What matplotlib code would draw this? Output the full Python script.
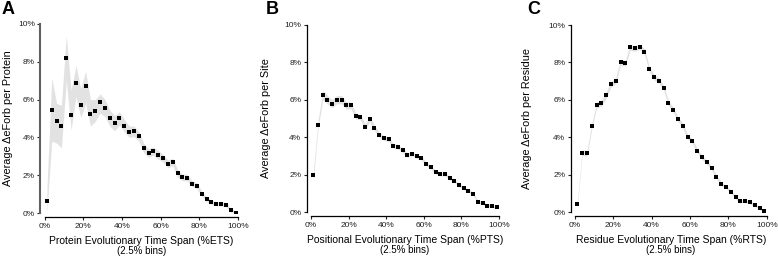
import numpy as np
import matplotlib
matplotlib.use("Agg")
import matplotlib.pyplot as plt
from matplotlib.ticker import FuncFormatter

plt.rcParams['font.family'] = ['Liberation Sans', 'DejaVu Sans']

# bin centres (2.5% bins)
bins = np.arange(1.25, 100, 2.5)

# Panel A - per protein
a_mean = [0.63, 5.44, 4.86, 4.60, 8.22, 5.19, 6.90, 5.70, 6.74, 5.25,
          5.42, 5.86, 5.58, 5.05, 4.75, 5.00, 4.61, 4.30, 4.33, 4.05,
          3.45, 3.17, 3.27, 3.08, 2.90, 2.60, 2.69, 2.10, 1.88, 1.87,
          1.55, 1.43, 1.02, 0.72, 0.56, 0.49, 0.48, 0.44, 0.14, 0.02]
a_hi = [1.30, 7.15, 5.80, 5.70, 9.40, 6.50, 7.80, 6.60, 7.50, 6.00,
        6.00, 6.30, 6.00, 5.45, 5.15, 5.35, 4.95, 4.60, 4.60, 4.30,
        3.70, 3.40, 3.50, 3.30, 3.10, 2.80, 2.90, 2.30, 2.05, 2.05,
        1.70, 1.60, 1.15, 0.85, 0.68, 0.60, 0.60, 0.55, 0.25, 0.10]
a_lo = [0.00, 3.80, 3.70, 3.45, 7.00, 4.40, 6.15, 5.05, 5.80, 4.60,
        4.85, 5.30, 5.10, 4.60, 4.35, 4.65, 4.30, 4.00, 4.05, 3.80,
        3.20, 2.95, 3.05, 2.85, 2.70, 2.40, 2.50, 1.90, 1.70, 1.70,
        1.40, 1.28, 0.90, 0.60, 0.45, 0.38, 0.37, 0.33, 0.04, 0.00]

# Panel B - per site
b_mean = [1.98, 4.68, 6.25, 6.00, 5.79, 6.00, 6.00, 5.70, 5.70, 5.14,
          5.07, 4.57, 4.96, 4.50, 4.14, 3.96, 3.90, 3.54, 3.50, 3.30,
          3.05, 3.13, 2.98, 2.89, 2.59, 2.39, 2.14, 2.04, 2.04, 1.82,
          1.68, 1.45, 1.29, 1.14, 0.98, 0.57, 0.50, 0.36, 0.34, 0.27]
b_err = [0.25, 0.20, 0.25, 0.22, 0.22, 0.22, 0.22, 0.20, 0.18, 0.16,
         0.15, 0.15, 0.15, 0.14, 0.13, 0.13, 0.12, 0.12, 0.12, 0.12,
         0.11, 0.11, 0.11, 0.11, 0.10, 0.10, 0.10, 0.10, 0.10, 0.10,
         0.09, 0.09, 0.09, 0.09, 0.09, 0.08, 0.08, 0.08, 0.08, 0.08]

# Panel C - per residue
c_mean = [0.45, 3.18, 3.16, 4.60, 5.72, 5.83, 6.26, 6.83, 7.03, 8.01,
          7.96, 8.80, 8.75, 8.84, 8.57, 7.66, 7.21, 7.03, 6.65, 5.83,
          5.47, 4.97, 4.63, 4.03, 3.79, 3.29, 2.93, 2.68, 2.34, 1.90,
          1.52, 1.36, 1.11, 0.80, 0.59, 0.59, 0.54, 0.38, 0.21, 0.05]
c_err = [0.15, 0.15, 0.15, 0.15, 0.15, 0.15, 0.15, 0.15, 0.15, 0.15,
         0.15, 0.15, 0.15, 0.15, 0.15, 0.14, 0.14, 0.14, 0.14, 0.13,
         0.13, 0.13, 0.12, 0.12, 0.12, 0.11, 0.11, 0.11, 0.10, 0.10,
         0.10, 0.09, 0.09, 0.09, 0.08, 0.08, 0.08, 0.08, 0.07, 0.07]

letters = ['A', 'B', 'C']
ylabels = ['Average \u0394eForb per Protein', 'Average \u0394eForb per Site',
           'Average \u0394eForb per Residue']
xlabels = ['Protein Evolutionary Time Span (%ETS)',
           'Positional Evolutionary Time Span (%PTS)',
           'Residue Evolutionary Time Span (%RTS)']

W, H = 778, 257
fig = plt.figure(figsize=(W / 100, H / 100), dpi=100)

# axes boxes in pixels: x0, x100, y0, y10
boxes = [(44.5, 238, 213, 24), (311, 499, 212.3, 24.7), (575, 766.7, 212.3, 25)]
letter_x = [2, 266, 527]
ylab_x = [-0.165, -0.215, -0.222]

means = [a_mean, b_mean, c_mean]
los = [a_lo, np.array(b_mean) - np.array(b_err), np.array(c_mean) - np.array(c_err)]
his = [a_hi, np.array(b_mean) + np.array(b_err), np.array(c_mean) + np.array(c_err)]

pct = FuncFormatter(lambda v, p: f'{v:.0f}%')

for i in range(3):
    x0, x1, y0, y1 = boxes[i]
    ax = fig.add_axes([x0 / W, 1 - y0 / H, (x1 - x0) / W, (y0 - y1) / H])
    ax.fill_between(bins, los[i], his[i], color='#e2e2e2', linewidth=0)
    ax.plot(bins, means[i], 's', color='black', markersize=2.3, markeredgewidth=0)
    ax.set_xlim(0, 100)
    ax.set_ylim(0, 10)
    ax.set_xticks(range(0, 101, 20))
    ax.set_yticks(range(0, 11, 2))
    ax.xaxis.set_major_formatter(pct)
    ax.yaxis.set_major_formatter(pct)
    for s in ['top', 'right']:
        ax.spines[s].set_visible(False)
    for s in ['left', 'bottom']:
        ax.spines[s].set_position(('outward', 3))
        ax.spines[s].set_linewidth(0.9)
    if i == 0:
        ax.spines['left'].set_color('#606060')
        ax.spines['left'].set_linewidth(1.5)
    ax.tick_params(length=2.5, width=0.8, pad=1.5, labelsize=6, colors='#222222')
    ax.set_ylabel(ylabels[i], fontsize=7.8)
    ax.yaxis.set_label_coords(ylab_x[i], 0.5)
    ax.text(0.5, -0.148, xlabels[i], transform=ax.transAxes,
            ha='center', va='center', fontsize=7.5)
    ax.text(0.5, -0.2, '(2.5% bins)', transform=ax.transAxes,
            ha='center', va='center', fontsize=7)
    fig.text(letter_x[i] / W, 1 - 1 / H, letters[i], ha='left', va='top',
             fontsize=13, fontweight='bold')

fig.savefig('out.png', dpi=100)
